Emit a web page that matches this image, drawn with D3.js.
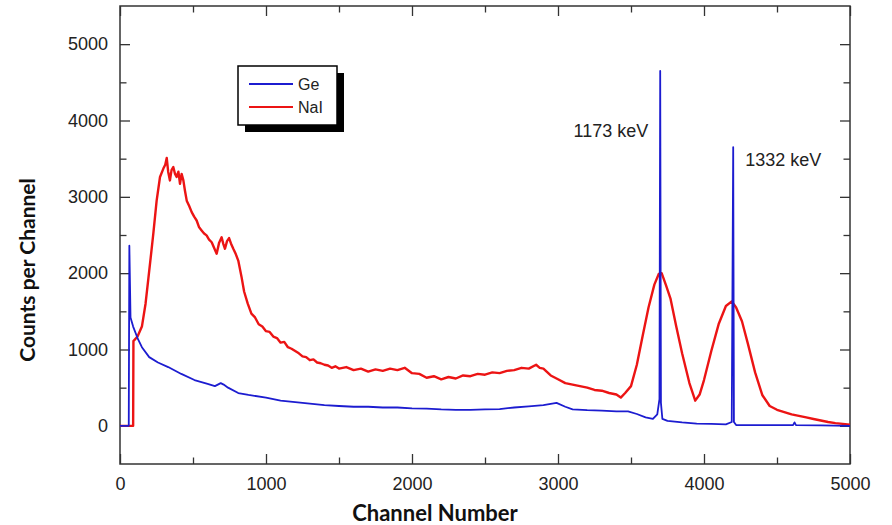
<!DOCTYPE html>
<html>
<head>
<meta charset="utf-8">
<script src="https://cdn.jsdelivr.net/npm/d3@7"></script>
<style>
  body { margin: 0; background: #fff; }
  svg { display: block; }
  .tick text { font-family: "Liberation Sans", Arial, sans-serif; font-size: 18px; fill: #222; }
  .tick line { stroke: #333; stroke-width: 1.3; }
</style>
</head>
<body>
<div id="chart"></div>
<script>
// spectrum data (channel, counts per channel)
const geChannels = [0, 60, 64, 72, 90, 120, 150, 200, 260, 330, 420, 510, 600, 650, 690, 710, 740, 810, 880, 1000, 1100, 1200, 1300, 1400, 1500, 1600, 1700, 1800, 1900, 2000, 2100, 2200, 2300, 2400, 2500, 2600, 2700, 2800, 2900, 2990, 3050, 3100, 3200, 3300, 3400, 3480, 3540, 3600, 3650, 3680, 3695, 3700, 3705, 3715, 3750, 3850, 3950, 4050, 4150, 4190, 4200, 4205, 4220, 4300, 4500, 4610, 4620, 4630, 4800, 5000];
const geCounts = [0, 0, 2360, 1420, 1300, 1150, 1030, 900, 830, 770, 680, 600, 550, 520, 560, 540, 500, 430, 405, 370, 330, 310, 290, 270, 260, 250, 250, 240, 240, 230, 225, 215, 210, 210, 215, 220, 240, 255, 270, 300, 250, 215, 205, 200, 190, 190, 155, 110, 90, 150, 350, 4650, 300, 90, 65, 45, 30, 25, 20, 50, 3650, 50, 10, 10, 10, 10, 45, 10, 5, 0];

const naiChannels = [0, 90, 92, 120, 150, 175, 194, 210, 228, 251, 274, 297, 310, 320, 330, 342, 353, 365, 377, 388, 400, 411, 422, 434, 445, 457, 474, 491, 508, 525, 542, 559, 576, 593, 610, 628, 645, 662, 679, 696, 708, 719, 733, 747, 760, 776, 793, 810, 833, 850, 875, 900, 925, 950, 975, 1000, 1025, 1050, 1075, 1100, 1125, 1150, 1175, 1200, 1225, 1250, 1275, 1300, 1325, 1350, 1375, 1400, 1425, 1450, 1475, 1500, 1550, 1600, 1650, 1700, 1750, 1800, 1850, 1900, 1950, 2000, 2050, 2100, 2150, 2200, 2250, 2300, 2350, 2400, 2450, 2500, 2550, 2600, 2650, 2700, 2750, 2800, 2850, 2875, 2900, 2950, 3000, 3050, 3100, 3150, 3200, 3250, 3300, 3350, 3400, 3430, 3460, 3500, 3540, 3580, 3620, 3660, 3690, 3710, 3740, 3770, 3810, 3850, 3900, 3940, 3970, 4000, 4050, 4100, 4150, 4190, 4220, 4260, 4300, 4350, 4400, 4450, 4500, 4550, 4600, 4650, 4700, 4750, 4800, 4850, 4900, 4950, 5000];
const naiCounts = [0, 0, 1110, 1170, 1300, 1600, 1925, 2200, 2515, 2950, 3260, 3370, 3420, 3510, 3330, 3215, 3350, 3390, 3300, 3260, 3330, 3170, 3300, 3215, 3080, 2950, 2880, 2800, 2740, 2690, 2600, 2560, 2520, 2495, 2440, 2405, 2330, 2255, 2400, 2470, 2380, 2320, 2420, 2460, 2390, 2320, 2250, 2165, 1945, 1760, 1600, 1470, 1420, 1330, 1300, 1240, 1230, 1170, 1150, 1090, 1100, 1030, 1010, 980, 950, 910, 900, 860, 870, 830, 820, 800, 790, 760, 780, 750, 770, 730, 750, 710, 740, 720, 750, 730, 760, 690, 680, 630, 650, 610, 640, 620, 660, 650, 680, 670, 700, 690, 720, 730, 760, 750, 800, 760, 750, 660, 610, 560, 540, 520, 500, 470, 460, 430, 410, 370, 430, 520, 800, 1180, 1550, 1850, 1990, 2000, 1840, 1670, 1300, 950, 560, 330, 410, 600, 980, 1330, 1570, 1630, 1550, 1370, 1080, 700, 400, 260, 210, 180, 150, 130, 110, 90, 70, 50, 35, 25, 15];

const seriesNames = ["Ge", "NaI"];
const seriesColors = ["#1c1cd0", "#ec1414"];

const xTicks = [0, 1000, 2000, 3000, 4000, 5000];
const yTicks = [0, 1000, 2000, 3000, 4000, 5000];

// peak annotations: [label, channel, count]
const peakLabels = [["1173 keV", 3700, 3780], ["1332 keV", 4200, 3410]];

const width = 892, height = 525;
const margin = {top: 6, right: 42, bottom: 61, left: 120};

const svg = d3.select("#chart").append("svg")
    .attr("width", width)
    .attr("height", height);

const x = d3.scaleLinear().domain([0, 5000]).range([margin.left, width - margin.right]);
const y = d3.scaleLinear().domain([-500, 5500]).range([height - margin.bottom, margin.top]);

const minorX = d3.range(500, 5000, 1000);
const minorY = d3.range(-500, 5500, 1000).filter(v => v > -500);

// axes, ticks pointing inward
function drawAxis(axis, tx, ty) {
    const g = svg.append("g").attr("transform", `translate(${tx},${ty})`).call(axis);
    g.select(".domain").remove();
    return g;
}
const bottomY = height - margin.bottom, topY = margin.top;
const leftX = margin.left, rightX = width - margin.right;

drawAxis(d3.axisBottom(x).tickValues(xTicks).tickSize(-10).tickPadding(13).tickFormat(d3.format("d")), 0, bottomY);
drawAxis(d3.axisBottom(x).tickValues(minorX).tickSize(-6.5).tickFormat(""), 0, bottomY);
drawAxis(d3.axisTop(x).tickValues(xTicks).tickSize(-10).tickFormat(""), 0, topY);
drawAxis(d3.axisTop(x).tickValues(minorX).tickSize(-6.5).tickFormat(""), 0, topY);

drawAxis(d3.axisLeft(y).tickValues(yTicks).tickSize(-10).tickPadding(12).tickFormat(d3.format("d")), leftX, 0);
drawAxis(d3.axisLeft(y).tickValues(minorY).tickSize(-6.5).tickFormat(""), leftX, 0);
drawAxis(d3.axisRight(y).tickValues(yTicks).tickSize(-10).tickFormat(""), rightX, 0);
drawAxis(d3.axisRight(y).tickValues(minorY).tickSize(-6.5).tickFormat(""), rightX, 0);

// frame
svg.append("rect")
    .attr("x", leftX).attr("y", topY)
    .attr("width", rightX - leftX).attr("height", bottomY - topY)
    .attr("fill", "none")
    .attr("stroke", "#333")
    .attr("stroke-width", 1.5);

const line = d3.line().x(d => x(d[0])).y(d => y(d[1]));

const naiData = naiChannels.map((c, i) => [c, naiCounts[i]]);
const geData = geChannels.map((c, i) => [c, geCounts[i]]);

svg.append("path")
    .datum(naiData)
    .attr("d", line)
    .attr("fill", "none")
    .attr("stroke", seriesColors[1])
    .attr("stroke-width", 2.4)
    .attr("stroke-linejoin", "round");

svg.append("path")
    .datum(geData)
    .attr("d", line)
    .attr("fill", "none")
    .attr("stroke", seriesColors[0])
    .attr("stroke-width", 1.8)
    .attr("stroke-linejoin", "round");

// peak labels
svg.selectAll(".peak")
    .data(peakLabels)
    .enter()
    .append("text")
    .attr("class", "peak")
    .attr("x", (d, i) => i === 0 ? x(d[1]) - 12 : x(d[1]) + 12)
    .attr("y", d => y(d[2]))
    .attr("text-anchor", (d, i) => i === 0 ? "end" : "start")
    .attr("font-family", "Liberation Sans, Arial, sans-serif")
    .attr("font-size", 18)
    .attr("fill", "#222")
    .text(d => d[0]);

// legend with drop shadow
const legend = svg.append("g").attr("transform", "translate(238,66)");
legend.append("rect")
    .attr("x", 7).attr("y", 7)
    .attr("width", 99).attr("height", 59)
    .attr("fill", "#000");
legend.append("rect")
    .attr("width", 99).attr("height", 59)
    .attr("fill", "#fff")
    .attr("stroke", "#000")
    .attr("stroke-width", 1.5);
seriesNames.forEach((name, i) => {
    legend.append("line")
        .attr("x1", 11).attr("x2", 55)
        .attr("y1", 18 + i * 23).attr("y2", 18 + i * 23)
        .attr("stroke", seriesColors[i])
        .attr("stroke-width", 1.8);
    legend.append("text")
        .attr("x", 60)
        .attr("y", 18 + i * 23)
        .attr("dy", "0.35em")
        .attr("font-family", "Liberation Sans, Arial, sans-serif")
        .attr("font-size", 16)
        .attr("fill", "#222")
        .text(name);
});

// axis titles
svg.append("text")
    .attr("x", 435)
    .attr("y", 521)
    .attr("text-anchor", "middle")
    .attr("font-family", "Lato, sans-serif")
    .attr("font-weight", "bold")
    .attr("font-size", 22)
    .attr("fill", "#111")
    .text("Channel Number");

svg.append("text")
    .attr("transform", "translate(35,270) rotate(-90)")
    .attr("text-anchor", "middle")
    .attr("font-family", "Lato, sans-serif")
    .attr("font-weight", "bold")
    .attr("font-size", 21)
    .attr("fill", "#111")
    .text("Counts per Channel");
</script>
</body>
</html>
